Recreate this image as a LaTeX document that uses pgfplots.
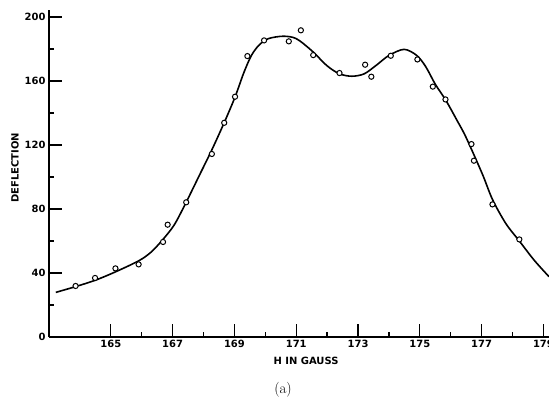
\documentclass[border=0pt]{standalone}
\usepackage{fontspec}
\setsansfont{DejaVu Sans}
\usepackage{pgfplots}
\pgfplotsset{compat=1.18}
\begin{document}
\begin{tikzpicture}[x=1bp,y=1bp]
\useasboundingbox (0,0) rectangle (549,398);
\clip (0,0) rectangle (549,398);
\begin{axis}[
  at={(49bp,61bp)}, anchor=south west,
  scale only axis, width=500bp, height=327bp,
  xmin=163, xmax=179.18, ymin=0, ymax=204.4,
  axis x line=bottom, axis y line=left,
  axis line style={-, line width=1.6bp},
  xtick={165,167,...,179}, minor xtick={166,168,...,178},
  ytick={0,40,...,200}, minor ytick={20,60,...,180},
  tick align=inside, major tick length=13bp, minor tick length=5bp,
  tick style={black, line width=1.3bp},
  tick label style={font=\fontsize{10}{12}\selectfont\sffamily\bfseries},
  /pgf/number format/assume math mode=true,
  /pgf/number format/1000 sep={},
  xlabel={H IN GAUSS}, ylabel={DEFLECTION},
  label style={font=\fontsize{10}{12}\selectfont\sffamily\bfseries},
  x label style={at={(axis description cs:0.514,-0.0734)}, anchor=center},
  y label style={at={(axis description cs:-0.068,0.517)}, anchor=center},
  clip=false,
]
\addplot[black, line width=1.6bp, smooth, tension=0.5] coordinates {
(163.22,27.9) (163.86,31.5) (164.5,35.5) (165.16,40.8) (165.91,47.7) (166.3,53)
(166.67,60.6) (167.05,70) (167.42,83.5) (167.89,102) (168.27,117) (168.67,134)
(169.02,150) (169.3,165) (169.55,176) (169.8,182.5) (170.1,186.5) (170.58,188)
(171.0,186.5) (171.5,179) (172.0,169.5) (172.4,164.5) (172.8,163) (173.2,164.5)
(173.6,170) (174.0,176) (174.49,179.8) (174.9,176) (175.19,169) (175.5,158)
(175.84,148) (176.2,135.5) (176.49,125) (177.02,102) (177.35,86) (177.78,71)
(178.22,60) (178.7,48) (179.18,37.7)
};
\addplot[only marks, mark=*, mark size=2.6bp, mark options={draw=black, fill=white, line width=1bp}] coordinates {
(163.86,31.9) (164.49,36.9) (165.15,42.9) (165.90,45.4) (166.69,59.4) (166.84,70.2)
(167.44,84.2) (168.27,114.4) (168.67,133.9) (169.02,150.2) (169.42,175.6) (169.96,185.4)
(170.76,184.8) (171.15,191.7) (171.55,176.2) (172.40,165.0) (173.23,170.2) (173.43,162.7)
(174.06,175.8) (174.92,173.5) (175.42,156.5) (175.83,148.5) (176.67,120.6) (176.75,110.2)
(177.35,82.9) (178.22,61.0)
};
\end{axis}
\node[font=\fontsize{15}{17}\selectfont] at (283,8) {(a)};
\end{tikzpicture}
\end{document}
